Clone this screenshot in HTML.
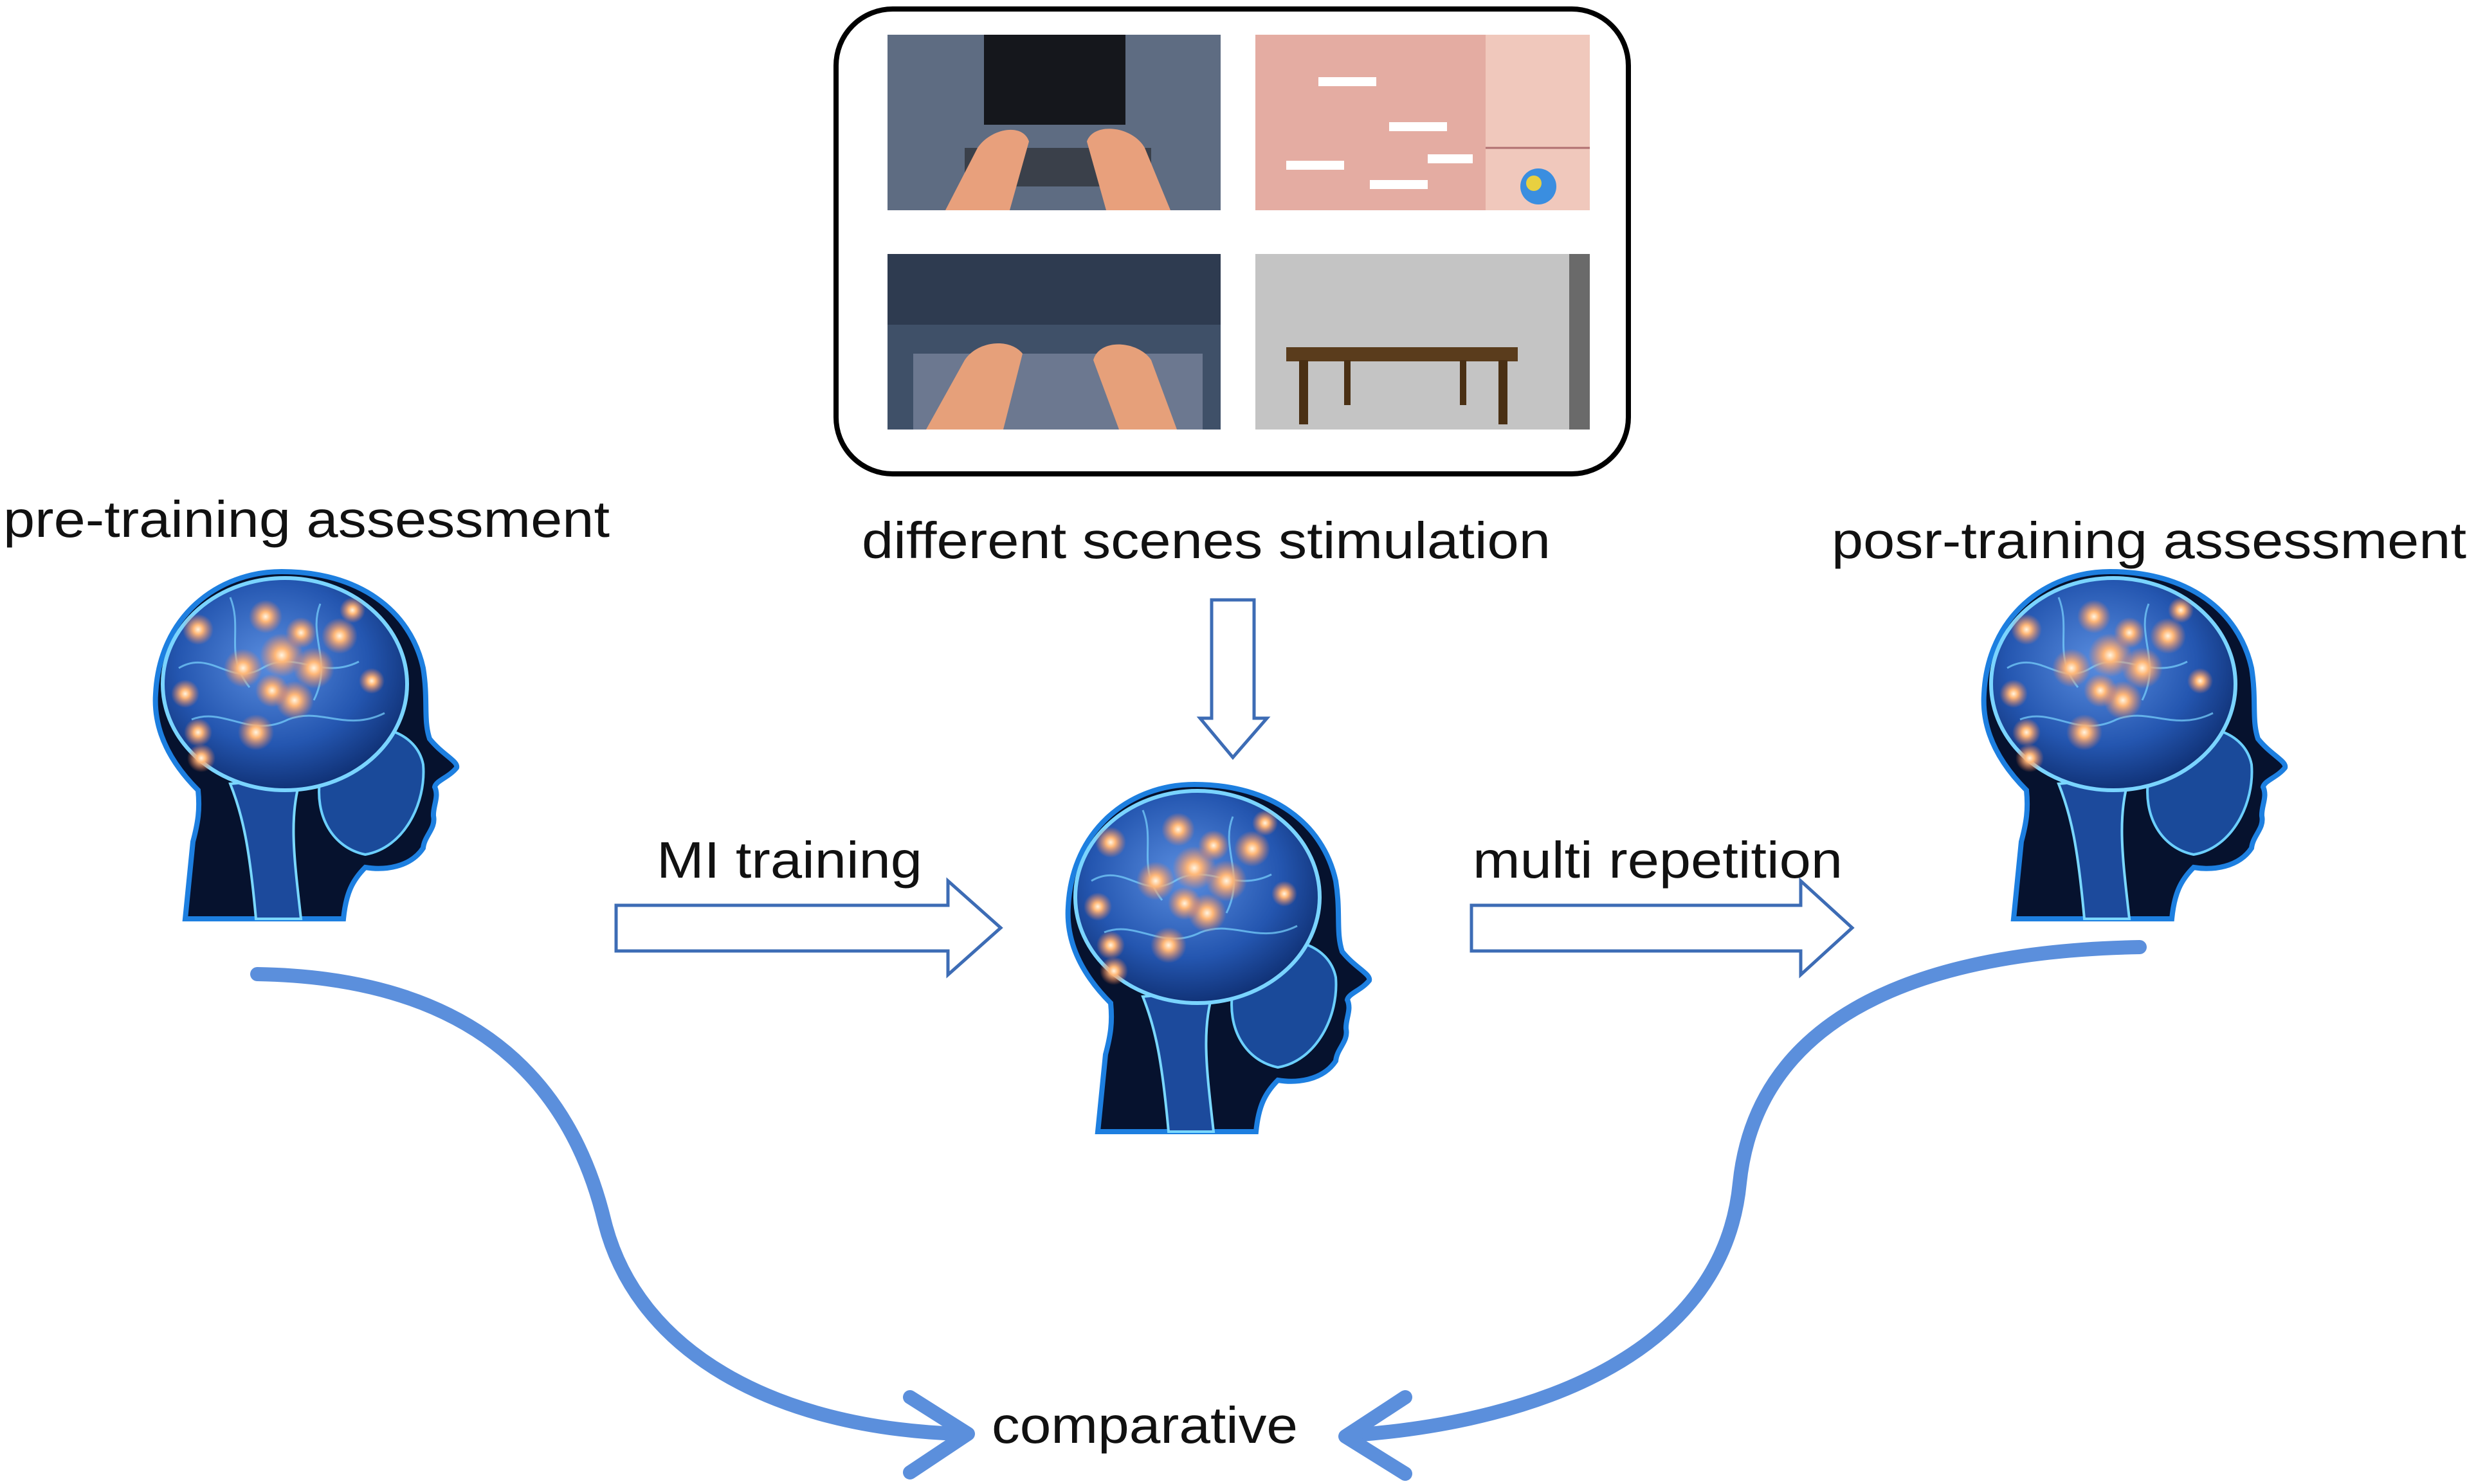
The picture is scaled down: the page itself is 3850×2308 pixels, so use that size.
<!DOCTYPE html>
<html><head><meta charset="utf-8"><style>
html,body{margin:0;padding:0;background:#fff;}
svg{display:block;}
text{font-family:"Liberation Sans",Arial,sans-serif;fill:#111;}
</style></head><body>
<svg width="3850" height="2308" viewBox="0 0 3850 2308" xmlns="http://www.w3.org/2000/svg">
<defs>
<radialGradient id="glow"><stop offset="0" stop-color="#fff4e0"/><stop offset="0.3" stop-color="#ffb878"/><stop offset="1" stop-color="#ff8050" stop-opacity="0"/></radialGradient>
<radialGradient id="brain" cx="0.45" cy="0.4" r="0.65"><stop offset="0" stop-color="#5a8ee0"/><stop offset="0.6" stop-color="#2456b0"/><stop offset="1" stop-color="#0c2a6a"/></radialGradient>
<g id="head">
<path d="M50,540 L62,420 C70,390 73,370 70,340 C30,300 0,250 4,190 C10,70 100,0 200,0 C320,0 400,60 420,150 C428,200 420,230 430,260 C450,285 475,295 472,305 C460,320 440,325 438,335 C445,350 435,365 436,380 C440,400 422,410 420,430 C400,460 360,465 330,460 C310,480 300,500 296,540 Z" fill="#06122e" stroke="#1d7fe0" stroke-width="8"/>
<path d="M290,250 C350,230 410,250 420,300 C425,360 390,430 330,440 C280,430 250,380 260,320 Z" fill="#1a4a9a" stroke="#6cd0ff" stroke-width="4"/>
<path d="M120,330 C140,380 150,430 160,540 L230,540 C220,450 210,380 230,320 Z" fill="#1c4a9c" stroke="#7ad8ff" stroke-width="4"/>
<ellipse cx="205" cy="175" rx="190" ry="165" fill="url(#brain)" stroke="#7ad4ff" stroke-width="6"/>
<g fill="none" stroke="#7ad4ff" stroke-width="3" opacity="0.7">
<path d="M40,150 C90,120 120,180 170,150 C220,120 260,170 320,140"/>
<path d="M60,230 C110,210 150,260 210,230 C260,210 300,250 360,220"/>
<path d="M120,40 C140,90 110,130 150,180"/>
<path d="M260,50 C240,100 280,140 250,200"/>
</g>
<circle cx="200" cy="130" r="34" fill="url(#glow)"/><circle cx="140" cy="150" r="30" fill="url(#glow)"/>
<circle cx="250" cy="150" r="32" fill="url(#glow)"/><circle cx="175" cy="70" r="26" fill="url(#glow)"/>
<circle cx="290" cy="100" r="28" fill="url(#glow)"/><circle cx="70" cy="90" r="24" fill="url(#glow)"/>
<circle cx="50" cy="190" r="22" fill="url(#glow)"/><circle cx="220" cy="200" r="30" fill="url(#glow)"/>
<circle cx="160" cy="250" r="28" fill="url(#glow)"/><circle cx="70" cy="250" r="22" fill="url(#glow)"/>
<circle cx="340" cy="170" r="20" fill="url(#glow)"/><circle cx="310" cy="60" r="20" fill="url(#glow)"/>
<circle cx="75" cy="290" r="22" fill="url(#glow)"/><circle cx="230" cy="95" r="24" fill="url(#glow)"/>
<circle cx="185" cy="185" r="26" fill="url(#glow)"/>
</g>
</defs>

<rect x="1300" y="14" width="1232" height="723" rx="88" fill="#fff" stroke="#000" stroke-width="8"/>
<rect x="1380" y="54" width="518" height="273" fill="#5e6c82"/>
<rect x="1530" y="54" width="220" height="140" fill="#15171c"/>
<rect x="1500" y="230" width="290" height="60" fill="#3a404a"/>
<path d="M1470,327 L1520,230 C1540,200 1590,190 1600,220 L1570,327 Z" fill="#e8a07c"/>
<path d="M1720,327 L1690,220 C1700,190 1760,195 1780,230 L1820,327 Z" fill="#e8a07c"/>
<rect x="1952" y="54" width="520" height="273" fill="#e4aca2"/>
<rect x="2310" y="54" width="162" height="273" fill="#f0c8bc"/>
<line x1="2310" y1="230" x2="2472" y2="230" stroke="#b07070" stroke-width="3"/>
<circle cx="2392" cy="290" r="28" fill="#3a8ee0"/><circle cx="2385" cy="285" r="12" fill="#e8d040"/>
<rect x="2050" y="120" width="90" height="14" fill="#fff"/><rect x="2160" y="190" width="90" height="14" fill="#fff"/>
<rect x="2000" y="250" width="90" height="14" fill="#fff"/><rect x="2130" y="280" width="90" height="14" fill="#fff"/>
<rect x="2220" y="240" width="70" height="14" fill="#fff"/>
<rect x="1380" y="395" width="518" height="273" fill="#3f5068"/>
<rect x="1380" y="395" width="518" height="110" fill="#2e3b50"/>
<rect x="1420" y="550" width="450" height="118" fill="#6c7890"/>
<path d="M1440,668 L1500,560 C1520,530 1570,525 1590,550 L1560,668 Z" fill="#e6a07a"/>
<path d="M1740,668 L1700,560 C1710,525 1770,530 1790,560 L1830,668 Z" fill="#e6a07a"/>
<rect x="1952" y="395" width="520" height="273" fill="#c4c4c4"/>
<rect x="2440" y="395" width="32" height="273" fill="#6a6a6a"/>
<rect x="2000" y="540" width="360" height="22" fill="#5a3c1c"/>
<rect x="2020" y="560" width="14" height="100" fill="#4a3014"/><rect x="2330" y="560" width="14" height="100" fill="#4a3014"/>
<rect x="2090" y="560" width="10" height="70" fill="#4a3014"/><rect x="2270" y="560" width="10" height="70" fill="#4a3014"/>

<text x="5" y="835" font-size="80" textLength="943" lengthAdjust="spacingAndGlyphs">pre-training assessment</text>
<text x="1340" y="868" font-size="80" textLength="1071" lengthAdjust="spacingAndGlyphs">different scenes stimulation</text>
<text x="2848" y="868" font-size="80" textLength="987" lengthAdjust="spacingAndGlyphs">posr-training assessment</text>
<text x="1021" y="1365" font-size="80" textLength="413" lengthAdjust="spacingAndGlyphs">MI training</text>
<text x="2290" y="1365" font-size="80" textLength="575" lengthAdjust="spacingAndGlyphs">multi repetition</text>
<text x="1542" y="2244" font-size="80" textLength="476" lengthAdjust="spacingAndGlyphs">comparative</text>

<path d="M1884,933 L1950,933 L1950,1117 L1970,1117 L1917,1178 L1866,1117 L1884,1117 Z" fill="#fff" stroke="#3d6cb5" stroke-width="5"/>
<path d="M958,1408 L1474,1408 L1474,1370 L1556,1443 L1474,1516 L1474,1479 L958,1479 Z" fill="#fff" stroke="#3d6cb5" stroke-width="5"/>
<path d="M2288,1408 L2800,1408 L2800,1370 L2880,1443 L2800,1516 L2800,1479 L2288,1479 Z" fill="#fff" stroke="#3d6cb5" stroke-width="5"/>

<use href="#head" transform="translate(238,889)"/>
<use href="#head" transform="translate(1657,1220)"/>
<use href="#head" transform="translate(3081,889)"/>

<g fill="none" stroke="#5b8fdc" stroke-width="22" stroke-linecap="round" stroke-linejoin="round">
<path d="M400,1515 C700,1520 880,1650 940,1900 C990,2100 1200,2220 1490,2230"/>
<path d="M1415,2173 L1505,2230 L1415,2290"/>
<path d="M3327,1473 C2950,1480 2730,1600 2705,1840 C2680,2100 2400,2210 2105,2232"/>
<path d="M2185,2173 L2092,2234 L2185,2292"/>
</g>
</svg>
</body></html>
